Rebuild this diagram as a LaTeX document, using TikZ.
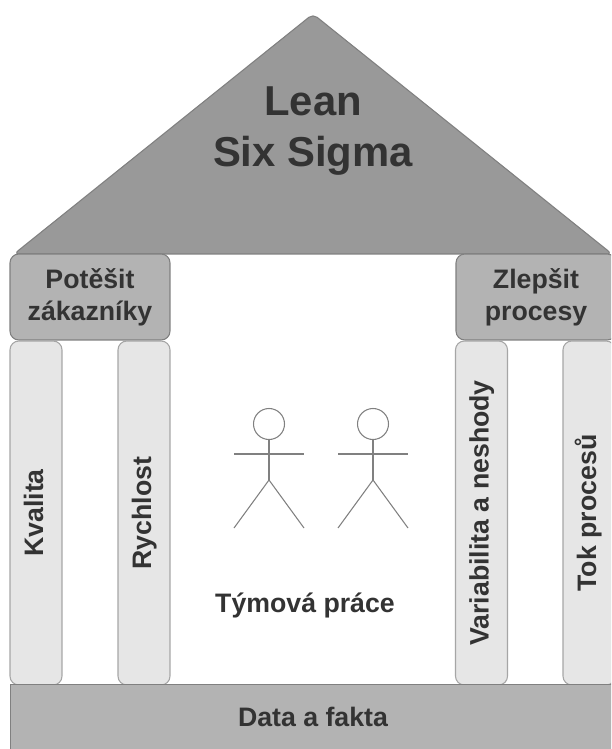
\documentclass[tikz,border=0pt]{standalone}
\usepackage{xcolor}
\usepackage{fontspec}
\setmainfont{Liberation Sans}
\usetikzlibrary{shapes.geometric, calc}
\definecolor{roofgray}{HTML}{999999}
\definecolor{beamgray}{HTML}{B3B3B3}
\definecolor{pillargray}{HTML}{E6E6E6}
\definecolor{edgegray}{HTML}{808080}
\definecolor{textgray}{HTML}{333333}
\tikzset{
  beam/.style={draw=edgegray, fill=beamgray, rounded corners=5pt, line width=0.6pt, text=textgray, align=center, inner sep=0pt, font=\fontsize{15.2}{18.2}\selectfont\bfseries},
  pillar/.style={draw=edgegray!70, fill=pillargray, rounded corners=5pt, line width=0.6pt, text=textgray, rotate=90, inner sep=0pt, text height=11pt, text depth=3pt, font=\fontsize{15.2}{16}\selectfont\bfseries},
  figline/.style={draw=edgegray, line width=0.6pt}
}
\begin{document}
\begin{tikzpicture}[x=0.02cm,y=-0.02cm]
                \useasboundingbox (0,0) rectangle (611,749);
                \clip (0,0) rectangle (611,749);
                \fill[white] (0,0) rectangle (611,749);
                % Roof
                \draw[draw=edgegray, fill=roofgray, line width=0.6pt, rounded corners=3pt] (14,254) -- (313,14) -- (612,254) -- cycle;
                \node[text=textgray, align=center, font=\fontsize{23.8}{28.8}\selectfont\bfseries] (roof) at (313,131) {Lean\\Six Sigma};
                % Beams
                \node[beam, minimum width=3.2cm, minimum height=1.72cm] (delight) at (90,297) {Potěšit\\zákazníky};
                \node[beam, minimum width=3.2cm, minimum height=1.72cm] (improve) at (536,297) {Zlepšit\\procesy};
                % Pillars
                \node[pillar, minimum width=6.88cm, minimum height=1.04cm] (quality) at (36,513) {Kvalita};
                \node[pillar, minimum width=6.88cm, minimum height=1.04cm] (speed) at (144,513) {Rychlost};
                \node[pillar, minimum width=6.88cm, minimum height=1.04cm] (variation) at (481.5,513) {Variabilita a neshody};
                \node[pillar, minimum width=6.88cm, minimum height=1.04cm] (flow) at (589,513) {Tok procesů};
                % Base
                \node[beam, rounded corners=0pt, minimum width=12.12cm, minimum height=1.3cm] (base) at (313,717) {Data a fakta};
                % Team
                \foreach \x in {269,373} {
                    \draw[figline] (\x,424) circle(15.5);
                    \draw[figline] (\x,440) -- (\x,480);
                    \draw[figline] (\x-35,454) -- (\x+35,454);
                    \draw[figline] (\x-35,528) -- (\x,480) -- (\x+35,528);
                }
                \node[text=textgray, font=\fontsize{15.2}{16}\selectfont\bfseries] (team) at (305,605) {Týmová práce};
            \end{tikzpicture}
\end{document}
